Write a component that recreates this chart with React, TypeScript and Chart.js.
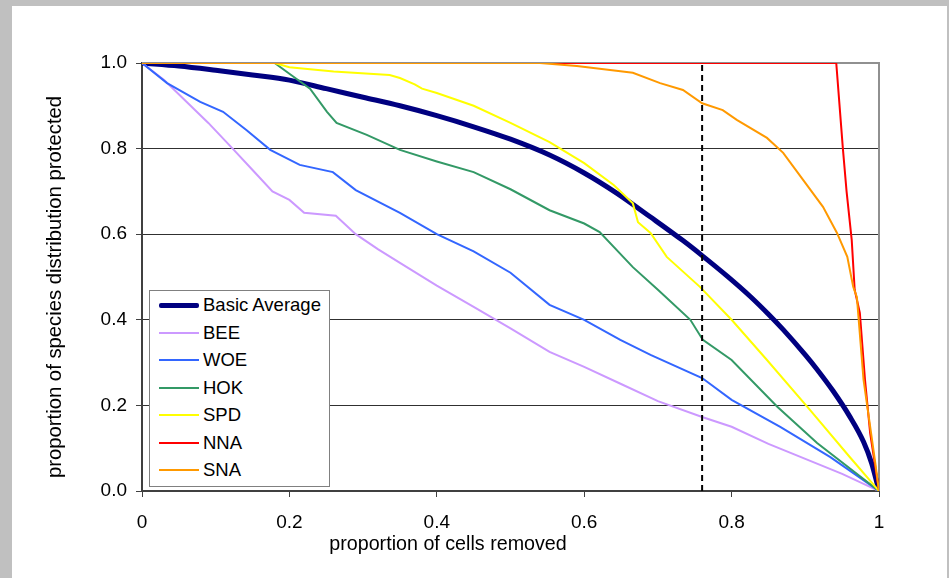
import React, { useEffect, useRef } from "react";
import { Chart, registerables } from "chart.js";

Chart.register(...registerables);

// ---- data ----
const avgX = [0, 0.05, 0.1, 0.15, 0.2, 0.25, 0.3, 0.35, 0.4, 0.45, 0.5, 0.553, 0.6, 0.644, 0.69, 0.734, 0.76, 0.794, 0.825, 0.85, 0.87, 0.9, 0.916, 0.938, 0.96, 0.979, 0.99, 1];
const avgY = [1, 0.993, 0.983, 0.972, 0.96, 0.94, 0.92, 0.9, 0.877, 0.851, 0.822, 0.785, 0.743, 0.696, 0.64, 0.585, 0.55, 0.502, 0.455, 0.413, 0.377, 0.318, 0.284, 0.233, 0.175, 0.115, 0.065, 0];

const beeX = [0, 0.03, 0.06, 0.09, 0.123, 0.15, 0.177, 0.2, 0.22, 0.263, 0.29, 0.32, 0.35, 0.4, 0.45, 0.5, 0.553, 0.6, 0.65, 0.7, 0.76, 0.8, 0.85, 0.9, 0.95, 1];
const beeY = [1, 0.96, 0.91, 0.86, 0.8, 0.75, 0.7, 0.68, 0.65, 0.643, 0.6, 0.565, 0.533, 0.48, 0.43, 0.38, 0.325, 0.29, 0.25, 0.21, 0.173, 0.15, 0.11, 0.075, 0.04, 0];

const woeX = [0, 0.034, 0.079, 0.11, 0.142, 0.174, 0.214, 0.259, 0.29, 0.35, 0.4, 0.45, 0.5, 0.553, 0.6, 0.649, 0.69, 0.76, 0.8, 0.866, 0.934, 1];
const woeY = [1, 0.953, 0.909, 0.886, 0.843, 0.797, 0.762, 0.745, 0.703, 0.65, 0.6, 0.56, 0.51, 0.435, 0.4, 0.353, 0.318, 0.264, 0.213, 0.15, 0.079, 0];

const hokX = [0, 0.18, 0.2, 0.228, 0.251, 0.264, 0.305, 0.35, 0.4, 0.45, 0.5, 0.553, 0.6, 0.621, 0.666, 0.7, 0.744, 0.761, 0.8, 0.862, 0.916, 1];
const hokY = [1, 1, 0.975, 0.94, 0.886, 0.86, 0.832, 0.797, 0.77, 0.745, 0.705, 0.656, 0.625, 0.605, 0.523, 0.47, 0.4, 0.353, 0.306, 0.197, 0.112, 0];

const spdX = [0, 0.18, 0.2, 0.214, 0.26, 0.336, 0.35, 0.37, 0.38, 0.4, 0.45, 0.5, 0.553, 0.6, 0.64, 0.666, 0.673, 0.69, 0.712, 0.757, 0.8, 0.848, 0.906, 0.96, 1];
const spdY = [1, 1, 0.99, 0.988, 0.98, 0.972, 0.965, 0.95, 0.94, 0.93, 0.9, 0.86, 0.815, 0.766, 0.715, 0.672, 0.628, 0.603, 0.547, 0.477, 0.4, 0.306, 0.19, 0.08, 0];

const nnaX = [0, 0.942, 0.951, 0.956, 0.963, 0.967, 0.974, 0.981, 0.988, 1];
const nnaY = [1, 1, 0.8, 0.7, 0.586, 0.47, 0.416, 0.26, 0.135, 0];

const snaX = [0, 0.54, 0.59, 0.666, 0.703, 0.734, 0.76, 0.788, 0.807, 0.848, 0.87, 0.897, 0.924, 0.943, 0.957, 0.965, 0.97, 0.979, 0.995, 1];
const snaY = [1, 1, 0.993, 0.977, 0.953, 0.937, 0.906, 0.89, 0.867, 0.825, 0.79, 0.727, 0.664, 0.603, 0.547, 0.477, 0.453, 0.26, 0.065, 0];

const cutoffX = [0.76, 0.76];
const cutoffY = [0, 1];

const seriesNames = ["Basic Average", "BEE", "WOE", "HOK", "SPD", "NNA", "SNA"];
const seriesColors = ["#000080", "#cc99ff", "#3366ff", "#339966", "#ffff00", "#ff0000", "#ff9900"];
const seriesWidths = [5, 2, 2, 2, 2, 2, 2];
const seriesX = [avgX, beeX, woeX, hokX, spdX, nnaX, snaX];
const seriesY = [avgY, beeY, woeY, hokY, spdY, nnaY, snaY];

const xTitle = "proportion of cells removed";
const yTitle = "proportion of species distribution protected";

const FONT = "'Liberation Sans', Arial, sans-serif";

const pts = (xs: number[], ys: number[]) => xs.map((x, i) => ({ x, y: ys[i] }));

const framePlugin = {
  id: "frame",
  beforeDatasetsDraw(chart: any) {
    const { ctx, chartArea } = chart;
    ctx.save();
    ctx.strokeStyle = "#909090";
    ctx.lineWidth = 2;
    ctx.beginPath();
    ctx.moveTo(chartArea.left, chartArea.top);
    ctx.lineTo(chartArea.right, chartArea.top);
    ctx.lineTo(chartArea.right, chartArea.bottom);
    ctx.stroke();
    ctx.restore();
  },
};

const titlesPlugin = {
  id: "axisTitles",
  afterDraw(chart: any) {
    const { ctx } = chart;
    ctx.save();
    ctx.fillStyle = "#000";
    ctx.textAlign = "center";
    ctx.textBaseline = "middle";
    ctx.font = `19.7px ${FONT}`;
    ctx.fillText(xTitle, 448, 545);
    ctx.translate(55, 287);
    ctx.rotate(-Math.PI / 2);
    ctx.font = `20.3px ${FONT}`;
    ctx.fillText(yTitle, 0, 0);
    ctx.restore();
  },
};

export default function App() {
  const ref = useRef<HTMLCanvasElement | null>(null);

  useEffect(() => {
    if (!ref.current) return;
    const datasets: any[] = seriesNames.map((name, i) => ({
      label: name,
      data: pts(seriesX[i], seriesY[i]),
      borderColor: seriesColors[i],
      backgroundColor: seriesColors[i],
      borderWidth: seriesWidths[i],
      pointRadius: 0,
      tension: 0,
      cubicInterpolationMode: i === 0 ? "monotone" : "default",
      fill: false,
      order: 10 - i,
    }));
    datasets.push({
      label: "cutoff",
      data: pts(cutoffX, cutoffY),
      borderColor: "#000000",
      borderWidth: 2,
      borderDash: [6, 4],
      pointRadius: 0,
      fill: false,
      order: 0,
    });

    const chart = new Chart(ref.current, {
      type: "line",
      data: { datasets },
      plugins: [framePlugin, titlesPlugin],
      options: {
        animation: false,
        responsive: false,
        maintainAspectRatio: false,
        devicePixelRatio: 1,
        layout: { padding: { left: 0, top: 63, right: 70, bottom: 0 } },
        plugins: { legend: { display: false }, tooltip: { enabled: false } },
        scales: {
          x: {
            type: "linear",
            min: 0,
            max: 1,
            afterFit: (s: any) => { s.height = 87; },
            ticks: {
              stepSize: 0.2,
              color: "#000",
              font: { family: FONT, size: 19 },
              padding: 14,
              maxRotation: 0,
              callback: (v: any) => {
                const n = Number(v);
                if (Math.abs(n) < 1e-9) return "0";
                if (Math.abs(n - 1) < 1e-9) return "1";
                return n.toFixed(1);
              },
            },
            grid: { drawOnChartArea: false, drawTicks: true, tickLength: 6, tickColor: "#404040", tickWidth: 1 },
            border: { display: true, color: "#404040", width: 2 },
            title: { display: false, text: xTitle },
          },
          y: {
            type: "linear",
            min: 0,
            max: 1,
            afterFit: (s: any) => { s.width = 142; },
            ticks: {
              stepSize: 0.2,
              color: "#000",
              font: { family: FONT, size: 19 },
              padding: 9,
              callback: (v: any) => Number(v).toFixed(1),
            },
            grid: {
              drawOnChartArea: true,
              drawTicks: true,
              tickLength: 6,
              tickColor: "#404040",
              color: (c: any) => {
                const v = c.tick ? c.tick.value : 0;
                if (v > 0.99 || v < 0.01) return "rgba(0,0,0,0)";
                return "#303030";
              },
              lineWidth: 1,
            },
            border: { display: true, color: "#404040", width: 2 },
            title: { display: false, text: yTitle },
          },
        },
      },
    });
    return () => chart.destroy();
  }, []);

  return (
    <div style={{ position: "fixed", left: 0, top: 0, width: 949, height: 578, background: "#c0c0c0", overflow: "hidden" }}>
      <div style={{ position: "absolute", left: 12, top: 6, width: 935, height: 572, background: "#ffffff" }} />
      <canvas ref={ref} width={949} height={578} style={{ position: "absolute", left: 0, top: 0, width: 949, height: 578 }} />
      <div
        style={{
          position: "absolute",
          left: 149,
          top: 290,
          width: 179,
          height: 195,
          border: "1px solid #808080",
          background: "#ffffff",
          fontFamily: FONT,
          fontSize: 18.5,
          color: "#000",
        }}
      >
        {seriesNames.map((name, i) => (
          <div key={name} style={{ position: "absolute", left: 0, top: 2 + i * 27.5, height: 24, width: 179, display: "flex", alignItems: "center" }}>
            <div style={{ marginLeft: 9, width: 40, height: seriesWidths[i] === 5 ? 5 : 2, background: seriesColors[i], borderRadius: seriesWidths[i] === 5 ? 2 : 0 }} />
            <span style={{ marginLeft: 4, lineHeight: "24px", whiteSpace: "nowrap" }}>{name}</span>
          </div>
        ))}
      </div>
    </div>
  );
}
